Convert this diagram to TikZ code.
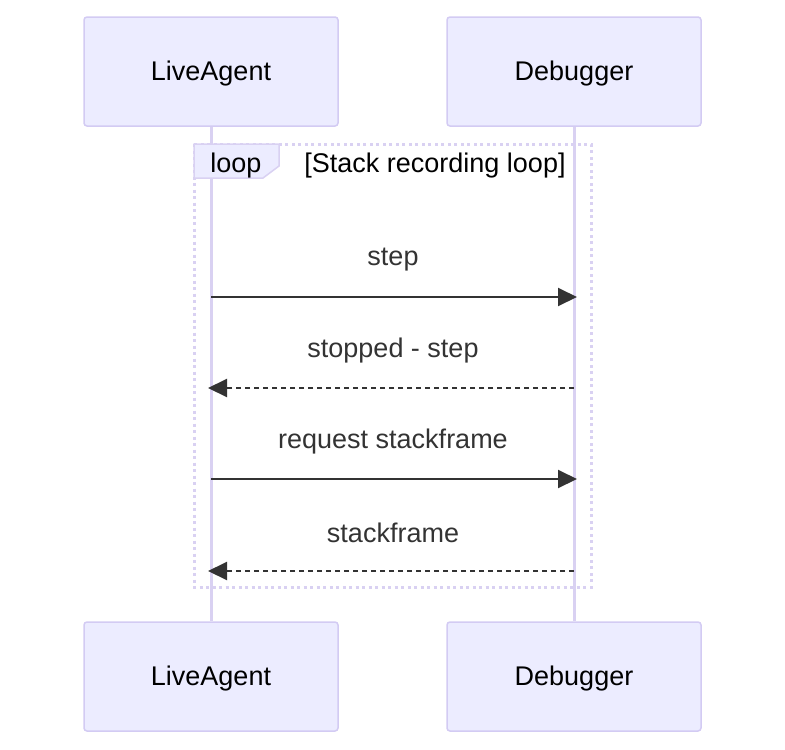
\documentclass[tikz,border=0pt]{standalone}
\usepackage{fontspec}
\setmainfont{Liberation Sans}
\usetikzlibrary{arrows.meta}
\definecolor{actfill}{HTML}{ECECFF}
\definecolor{actline}{HTML}{D3CBF3}
\definecolor{lifeline}{HTML}{D9D1F2}
\definecolor{msg}{HTML}{333333}
\tikzset{
  actor/.style={draw=actline, fill=actfill, line width=1.5pt, rounded corners=3pt,
    minimum width=254pt, minimum height=109pt, inner sep=0pt,
    font=\fontsize{27}{32}\selectfont, text=black},
  actortext/.style={font=\fontsize{27}{32}\selectfont, text=black, inner sep=0pt},
  life/.style={draw=lifeline, line width=3pt},
  msgtext/.style={font=\fontsize{27}{32}\selectfont, text=msg, inner sep=0pt},
  solidmsg/.style={draw=msg, line width=2pt, -{Triangle[length=19pt,width=18pt]}},
  dashmsg/.style={solidmsg, dash pattern=on 5pt off 4pt},
  loopborder/.style={draw=lifeline, line width=3pt, dash pattern=on 3pt off 3.5pt},
  looplabel/.style={font=\fontsize{27}{32}\selectfont, text=black, inner sep=0pt}
}
\begin{document}
\begin{tikzpicture}[x=1pt,y=-1pt]
\useasboundingbox (0,0) rectangle (785,750);
% actors
\node[actor] (la) at (211,71.5) {};
\node[actor] (db) at (574,71.5) {};
\node[actor] (lab) at (211,676.5) {};
\node[actor] (dbb) at (574,676.5) {};
\node[actortext] (lat) at (211,74) {LiveAgent};
\node[actortext] (dbt) at (574,74) {Debugger};
\node[actortext] (labt) at (211,679) {LiveAgent};
\node[actortext] (dbbt) at (574,679) {Debugger};
% lifelines
\draw[life] (la.south) -- (lab.north);
\draw[life] (db.south) -- (dbb.north);
% loop frame
\draw[loopborder] (194,144) rectangle (591,587);
\filldraw[fill=actfill, draw=lifeline, line width=1.5pt] (194,144) -- (279,144) -- (279,166) -- (263,178) -- (194,178) -- cycle;
\node[looplabel] (lp) at (236,166) {loop};
\node[looplabel] (lt) at (435,166) {[Stack recording loop]};
% message anchors
\coordinate (a1) at (211,297); \coordinate (b1) at (577,297);
\coordinate (a2) at (574,388); \coordinate (b2) at (208,388);
\coordinate (a3) at (211,479); \coordinate (b3) at (577,479);
\coordinate (a4) at (574,571); \coordinate (b4) at (208,571);
\node[msgtext] (t1) at (393,260) {step};
\node[msgtext] (t2) at (393,351) {stopped - step};
\node[msgtext] (t3) at (393,442) {request stackframe};
\node[msgtext] (t4) at (393,533) {stackframe};
\draw[solidmsg] (a1) -- (b1);
\draw[dashmsg] (a2) -- (b2);
\draw[solidmsg] (a3) -- (b3);
\draw[dashmsg] (a4) -- (b4);
\end{tikzpicture}
\end{document}
